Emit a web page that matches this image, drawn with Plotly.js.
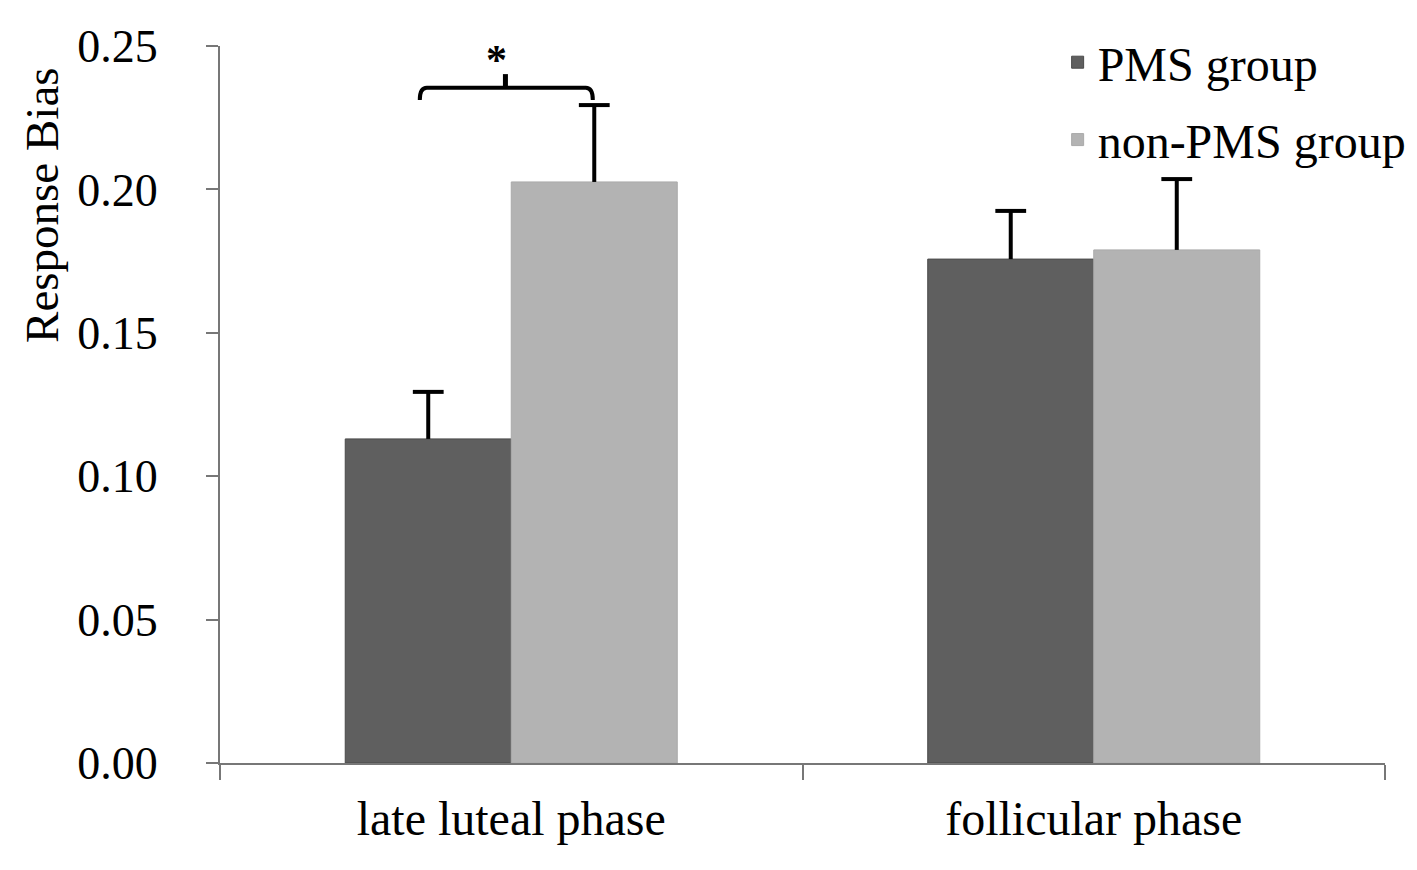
<!DOCTYPE html>
<html>
<head>
<meta charset="utf-8">
<script src="https://cdn.plot.ly/plotly-3.0.1.min.js"></script>
<style>
  body { margin: 0; background: #ffffff; }
  #chart { width: 1417px; height: 870px; }
</style>
</head>
<body>
<div id="chart"></div>
<script>
// ###################### DATA ######################

const phases = ["late luteal phase", "follicular phase"];
const pmsValues = [0.113, 0.1757];
const pmsErrors = [0.0164, 0.0168];
const nonPmsValues = [0.2026, 0.1789];
const nonPmsErrors = [0.0268, 0.0247];
const tickValues = [0, 0.05, 0.10, 0.15, 0.20, 0.25];

// ###################### CHART ######################

const serif = "Liberation Serif, Times New Roman, serif";

// upper-only stem, caps are drawn by the scatter traces below
const errStem = (arr) => ({
    type: "data", symmetric: false, array: arr, arrayminus: arr.map(() => 0),
    color: "#000000", thickness: 4, width: 0
});

const capTrace = (vals, errs, group) => ({
    type: "scatter", mode: "markers", x: phases,
    y: vals.map((v, i) => v + errs[i]),
    offsetgroup: group, showlegend: false, hoverinfo: "skip",
    marker: { symbol: "line-ew", size: 22, color: "#000000", line: { color: "#000000", width: 4 } }
});

const plotData = [
    { type: "bar", x: phases, y: pmsValues, name: "PMS group", legendgroup: "a", offsetgroup: "a",
      marker: { color: "#5f5f5f", line: { color: "#4a4a4a", width: 1 } },
      error_y: errStem(pmsErrors) },
    { type: "bar", x: phases, y: nonPmsValues, name: "non-PMS group", legendgroup: "b", offsetgroup: "b",
      marker: { color: "#b3b3b3", line: { color: "#aaaaaa", width: 1 } },
      error_y: errStem(nonPmsErrors) },
    capTrace(pmsValues, pmsErrors, "a"),
    capTrace(nonPmsValues, nonPmsErrors, "b"),
];

// bracket over the late luteal pair (category 0), in category units
const brLeft = -0.157, brRight = 0.140, brMid = -0.01;
const brY = 0.2354, brDrop = 0.0042, brTick = 0.0048;

const plotLayout = {
    width: 1417,
    height: 870,
    paper_bgcolor: "#ffffff",
    plot_bgcolor: "#ffffff",
    font: { family: serif, color: "#000000", size: 46 },
    margin: { t: 46, b: 107, l: 220, r: 32, autoexpand: false },
    barmode: "group",
    bargap: 0.43,
    bargroupgap: 0,
    scattermode: "group",
    scattergap: 0.43,
    showlegend: true,
    legend: {
        x: 0.719, y: 1.03, xanchor: "left", yanchor: "top",
        font: { family: serif, size: 48, color: "#000000" },
        traceorder: "grouped",
        tracegroupgap: 12,
        itemwidth: 30,
        bgcolor: "rgba(0,0,0,0)"
    },
    xaxis: {
        type: "category",
        showline: true, linecolor: "#777777", linewidth: 2,
        ticks: "outside", tickson: "boundaries", ticklen: 15, tickwidth: 2, tickcolor: "#777777",
        ticklabelstandoff: 12,
        tickfont: { family: serif, size: 48 },
        showgrid: false, zeroline: false
    },
    yaxis: {
        range: [0, 0.25],
        tickvals: tickValues,
        tickformat: ".2f",
        showline: true, linecolor: "#777777", linewidth: 2,
        ticks: "outside", ticklen: 12, tickwidth: 2, tickcolor: "#777777",
        ticklabelstandoff: 39,
        tickfont: { family: serif, size: 46 },
        showgrid: false, zeroline: false
    },
    shapes: [
        { type: "path", xref: "x", yref: "y",
          path: `M ${brLeft},${brY - brDrop} Q ${brLeft},${brY} ${brLeft + 0.012},${brY} ` +
                `L ${brRight - 0.012},${brY} Q ${brRight},${brY} ${brRight},${brY - brDrop}`,
          line: { color: "#000000", width: 4 } },
        { type: "line", xref: "x", yref: "y",
          x0: brMid, x1: brMid, y0: brY, y1: brY + brTick,
          line: { color: "#000000", width: 5 } }
    ],
    annotations: [
        { xref: "x", yref: "y", x: -0.025, y: 0.2451, yanchor: "middle",
          text: "<b>*</b>", showarrow: false, font: { family: serif, size: 42 } },
        // y axis title sits high beside the axis, as in the source figure
        { xref: "paper", yref: "paper", x: -0.153, y: 0.778, xanchor: "center", yanchor: "middle",
          textangle: -90, text: "Response Bias", showarrow: false,
          font: { family: serif, size: 47 } }
    ]
};

const plotConfig = { staticPlot: true, responsive: false };

Plotly.newPlot("chart", plotData, plotLayout, plotConfig);
</script>
</body>
</html>
